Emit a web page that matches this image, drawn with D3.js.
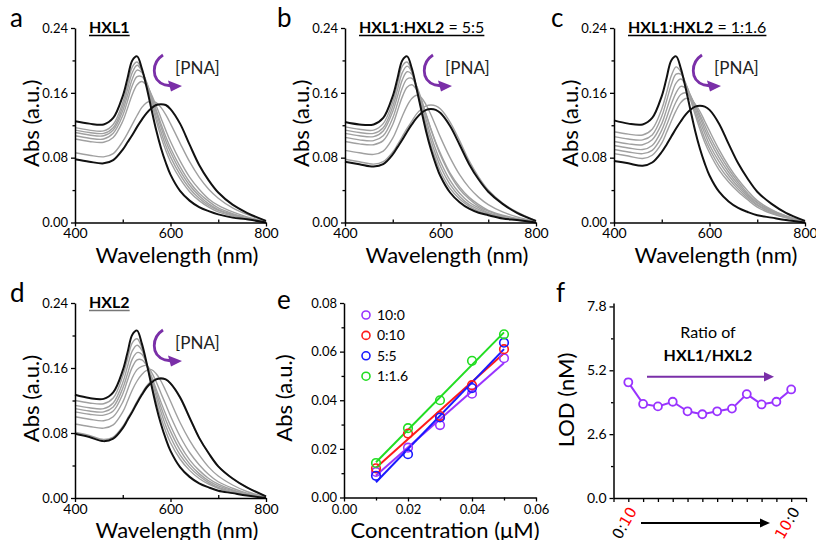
<!DOCTYPE html>
<html><head><meta charset="utf-8">
<script src="https://cdn.jsdelivr.net/npm/d3@7"></script>
<style>body{margin:0;background:#fff}svg{display:block;font-family:Lato,'Open Sans',sans-serif}</style>
</head><body><script>
// ---------- DATA ----------
const wavelengths = [400,430,460,480,500,510,520,530,540,550,560,570,580,590,600,620,640,660,680,700,730,760,800];

// Panel a (HXL1)
const aBlackStart = [.125,.122,.121,.129,.156,.178,.200,.205,.190,.167,.140,.114,.092,.074,.059,.039,.027,.019,.014,.010,.006,.004,.000];
const aBlackEnd   = [.078,.075,.073,.077,.090,.099,.108,.118,.127,.135,.141,.145,.146,.145,.140,.122,.096,.071,.052,.037,.022,.012,.002];
const aGray = [
  [.117,.114,.113,.121,.148,.170,.192,.198,.188,.170,.148,.126,.106,.089,.075,.054,.038,.027,.019,.013,.008,.004,.001],
  [.114,.111,.110,.117,.143,.164,.185,.194,.187,.172,.152,.131,.112,.095,.081,.059,.042,.030,.021,.015,.009,.005,.001],
  [.111,.108,.107,.114,.138,.157,.177,.188,.185,.173,.155,.136,.118,.101,.087,.064,.046,.033,.023,.016,.010,.005,.001],
  [.107,.104,.103,.110,.132,.150,.169,.180,.180,.171,.156,.139,.122,.106,.092,.069,.050,.036,.026,.018,.011,.006,.001],
  [.103,.100,.099,.105,.125,.141,.158,.170,.174,.169,.158,.144,.129,.114,.100,.076,.056,.041,.029,.021,.013,.007,.001],
  [.086,.083,.081,.085,.100,.110,.121,.132,.142,.148,.150,.148,.142,.133,.122,.098,.075,.056,.041,.030,.018,.010,.002]
];

// Panel b (HXL1:HXL2 = 5:5)
const bBlackStart = [.124,.121,.121,.129,.156,.178,.200,.205,.190,.165,.138,.112,.090,.072,.057,.037,.025,.017,.012,.009,.005,.003,.000];
const bBlackEnd   = [.075,.072,.069,.072,.084,.093,.102,.112,.121,.129,.135,.139,.140,.139,.135,.119,.096,.072,.053,.038,.023,.012,.002];
const bGray = [
  [.118,.115,.114,.122,.149,.171,.193,.198,.186,.164,.140,.116,.095,.078,.063,.042,.029,.020,.014,.010,.006,.003,.000],
  [.114,.111,.110,.117,.143,.164,.185,.193,.186,.167,.144,.121,.101,.084,.069,.047,.032,.022,.016,.011,.007,.004,.001],
  [.110,.107,.106,.113,.137,.156,.176,.186,.183,.168,.148,.127,.107,.090,.075,.052,.036,.025,.018,.012,.007,.004,.001],
  [.105,.102,.101,.107,.129,.147,.166,.177,.178,.168,.152,.133,.115,.098,.083,.059,.041,.029,.020,.014,.008,.004,.001],
  [.100,.097,.096,.101,.121,.138,.155,.167,.170,.164,.150,.133,.115,.099,.085,.061,.044,.031,.022,.015,.009,.005,.001],
  [.089,.086,.084,.088,.104,.117,.131,.144,.153,.157,.154,.145,.133,.119,.105,.080,.059,.043,.031,.022,.013,.007,.001],
  [.078,.075,.072,.075,.087,.096,.106,.116,.125,.134,.140,.144,.145,.144,.140,.124,.101,.076,.056,.040,.024,.013,.002]
];

// Panel c (HXL1:HXL2 = 1:1.6)
const cBlackStart = [.126,.122,.121,.129,.156,.178,.200,.205,.190,.166,.139,.113,.091,.073,.058,.038,.026,.018,.013,.009,.006,.003,.000];
const cBlackEnd   = [.076,.073,.070,.074,.087,.096,.106,.116,.125,.133,.139,.143,.144,.143,.139,.122,.097,.073,.054,.038,.023,.012,.002];
const cGray = [
  [.112,.109,.108,.115,.140,.160,.181,.192,.186,.171,.152,.133,.115,.099,.086,.065,.050,.038,.028,.019,.011,.006,.001],
  [.106,.103,.102,.108,.131,.150,.170,.183,.183,.172,.155,.137,.120,.104,.091,.070,.054,.041,.030,.021,.012,.006,.001],
  [.100,.097,.096,.102,.122,.139,.157,.172,.177,.170,.157,.141,.125,.110,.096,.075,.058,.044,.032,.022,.013,.007,.001],
  [.095,.092,.090,.095,.114,.129,.146,.160,.168,.166,.157,.144,.130,.115,.102,.080,.062,.047,.034,.024,.014,.007,.001],
  [.090,.087,.085,.089,.106,.120,.135,.149,.158,.160,.155,.145,.133,.120,.107,.085,.066,.050,.036,.025,.015,.008,.001],
  [.085,.082,.079,.083,.098,.111,.125,.138,.148,.153,.152,.146,.137,.125,.113,.090,.070,.053,.039,.027,.016,.008,.001]
];

// Panel d (HXL2)
const dBlackStart = [.127,.123,.122,.130,.157,.179,.201,.206,.190,.166,.139,.113,.091,.073,.058,.038,.026,.018,.013,.009,.006,.003,.000];
const dBlackEnd   = [.079,.075,.070,.073,.086,.096,.106,.117,.127,.136,.142,.146,.147,.146,.141,.124,.099,.074,.055,.039,.024,.013,.002];
const dGray = [
  [.120,.117,.116,.123,.150,.171,.191,.196,.185,.164,.141,.119,.099,.082,.068,.048,.034,.024,.017,.012,.007,.004,.001],
  [.114,.111,.110,.117,.142,.162,.181,.188,.182,.166,.146,.125,.106,.089,.075,.053,.038,.027,.019,.013,.008,.004,.001],
  [.110,.107,.106,.112,.135,.153,.171,.179,.177,.165,.148,.130,.112,.096,.082,.059,.042,.030,.021,.015,.009,.005,.001],
  [.106,.103,.102,.107,.128,.145,.161,.170,.170,.163,.150,.134,.118,.103,.089,.065,.047,.034,.024,.017,.010,.005,.001],
  [.100,.097,.095,.100,.118,.133,.148,.158,.162,.163,.155,.143,.129,.115,.101,.076,.056,.041,.029,.020,.012,.006,.001],
  [.091,.088,.086,.090,.106,.119,.133,.144,.152,.157,.158,.153,.144,.132,.119,.093,.071,.053,.038,.027,.016,.008,.001],
  [.081,.077,.072,.075,.088,.098,.108,.119,.129,.138,.144,.147,.148,.146,.141,.123,.098,.074,.055,.039,.024,.013,.002]
];

// Panel e (calibration)
const concentrations = [0.01,0.02,0.03,0.04,0.05];
const ratioNames = ["10:0","0:10","5:5","1:1.6"];
const abs_10_0  = [0.0105,0.0205,0.0298,0.0427,0.0573];
const abs_0_10  = [0.0120,0.0263,0.0335,0.0462,0.0610];
const abs_5_5   = [0.0089,0.0178,0.0329,0.0450,0.0637];
const abs_1_1_6 = [0.0142,0.0285,0.0400,0.0562,0.0671];
const ratioColors = ["#9933ff","#ff1a1a","#1a1aff","#22dd22"];

// Panel f (LOD)
const lodIndex = [1,2,3,4,5,6,7,8,9,10,11,12];
const lodValues = [4.71,3.83,3.73,3.92,3.53,3.41,3.53,3.64,4.23,3.81,3.92,4.42];
const lodErrors = [0.14,0.07,0.07,0.07,0.07,0.08,0.07,0.07,0.07,0.07,0.07,0.1];

const specYTicks = [0,0.08,0.16,0.24];
const specYMinor = [0.04,0.12,0.20];
const specXTicks = [400,600,800];
const specXMinor = [500,700];

// ---------- DRAW ----------
const FONT = "Lato,'Open Sans',sans-serif";
const svg = d3.select('body').append('svg').attr('width',816).attr('height',540);

function styleAxis(g, fs){
  g.attr('font-family', FONT).attr('font-size', fs||13);
  g.selectAll('path.domain').attr('stroke','#000').attr('stroke-width',1.5);
  g.selectAll('.tick line').attr('stroke','#000').attr('stroke-width',1.3);
  g.selectAll('.tick text').attr('fill','#000');
}

function underlinedTitle(x, y, parts, ulColor){
  const t = svg.append('text').attr('x',x).attr('y',y).attr('font-size',16).attr('fill','#000').attr('font-family',FONT);
  parts.forEach(p => t.append('tspan').text(p[0]).attr('font-weight', p[1] ? 700 : 400));
  const bb = t.node().getBBox();
  svg.append('line').attr('x1',bb.x).attr('x2',bb.x+bb.width).attr('y1',y+2.5).attr('y2',y+2.5)
    .attr('stroke', ulColor||'#000').attr('stroke-width',1.3);
}

function pnaArrow(ox, oy){
  const g = svg.append('g').attr('transform',`translate(${ox},${oy})`);
  g.append('path').attr('d','M88,27 C77,34 75,52 90,57 L97,58').attr('fill','none')
    .attr('stroke','#7a2fa8').attr('stroke-width',2.8);
  g.append('path').attr('d','M93,52.5 L107,58 L96,63.5 Z').attr('fill','#7a2fa8');
  g.append('text').attr('x',100).attr('y',46).attr('font-size',17).attr('fill','#222')
    .attr('font-family',FONT).text('[PNA]');
}

function spectrum(p){
  const x = d3.scaleLinear().domain([400,800]).range([p.x0,p.x1]);
  const y = d3.scaleLinear().domain([0,0.24]).range([p.y1,p.y0]);
  const line = d3.line().x((d,i)=>x(wavelengths[i])).y(d=>y(d)).curve(d3.curveCatmullRom.alpha(0.5));
  const g = svg.append('g');
  p.grays.forEach(s => g.append('path').attr('d',line(s)).attr('fill','none')
    .attr('stroke','#a0a0a0').attr('stroke-width',1.4));
  p.blacks.forEach(s => g.append('path').attr('d',line(s)).attr('fill','none')
    .attr('stroke','#111').attr('stroke-width',2));
  // axes
  const ya = svg.append('g').attr('transform',`translate(${p.x0},0)`)
    .call(d3.axisLeft(y).tickValues(specYTicks).tickFormat(d3.format('.2f')).tickSize(4).tickSizeOuter(0).tickPadding(3));
  styleAxis(ya);
  const ym = svg.append('g').attr('transform',`translate(${p.x0},0)`)
    .call(d3.axisLeft(y).tickValues(specYMinor).tickFormat('').tickSize(2.5).tickSizeOuter(0));
  styleAxis(ym); ym.select('path.domain').remove();
  const xa = svg.append('g').attr('transform',`translate(0,${p.y1})`)
    .call(d3.axisBottom(x).tickValues(specXTicks).tickFormat(d3.format('d')).tickSize(4).tickSizeOuter(0).tickPadding(2));
  styleAxis(xa, 14);
  const xm = svg.append('g').attr('transform',`translate(0,${p.y1})`)
    .call(d3.axisBottom(x).tickValues(specXMinor).tickFormat('').tickSize(-3).tickSizeOuter(0));
  styleAxis(xm); xm.select('path.domain').remove();
  // labels
  svg.append('text').attr('transform',`translate(${p.x0-36},${(p.y0+p.y1)/2-2}) rotate(-90)`)
    .attr('text-anchor','middle').attr('font-size',22).attr('font-family',FONT).text('Abs (a.u.)');
  svg.append('text').attr('x',p.x0+102).attr('y',p.y1+40).attr('text-anchor','middle')
    .attr('font-size',22).attr('font-family',FONT).text('Wavelength (nm)');
  svg.append('text').attr('x',p.lx).attr('y',p.ly).attr('font-size',26).attr('font-family',FONT).text(p.letter);
  underlinedTitle(p.x0+14, p.y0+5, p.title, p.ulColor);
  pnaArrow(p.x0, p.y0);
}

spectrum({x0:75,x1:266,y0:28,y1:222.5,grays:aGray,blacks:[aBlackStart,aBlackEnd],letter:'a',lx:10,ly:27,
  title:[['HXL1',true]]});
spectrum({x0:345,x1:536,y0:28,y1:222.5,grays:bGray,blacks:[bBlackStart,bBlackEnd],letter:'b',lx:277,ly:27,
  title:[['HXL1',true],[':',false],['HXL2',true],[' = 5:5',false]]});
spectrum({x0:614,x1:805,y0:28,y1:222.5,grays:cGray,blacks:[cBlackStart,cBlackEnd],letter:'c',lx:551,ly:27,
  title:[['HXL1',true],[':',false],['HXL2',true],[' = 1:1.6',false]]});
spectrum({x0:75,x1:266,y0:303,y1:498,grays:dGray,blacks:[dBlackStart,dBlackEnd],letter:'d',lx:10,ly:302,
  title:[['HXL2',true]], ulColor:'#777'});

// ---------- Panel e ----------
(function(){
  const x = d3.scaleLinear().domain([0,0.06]).range([344,536]);
  const y = d3.scaleLinear().domain([0,0.08]).range([497.5,303]);
  const series = [abs_10_0, abs_0_10, abs_5_5, abs_1_1_6];
  // regression lines
  series.forEach((ys,k)=>{
    const xm = d3.mean(concentrations), ym = d3.mean(ys);
    const slope = d3.sum(concentrations,(c,i)=>(c-xm)*(ys[i]-ym)) / d3.sum(concentrations,c=>(c-xm)*(c-xm));
    const icpt = ym - slope*xm;
    const ends = [concentrations[0], concentrations[concentrations.length-1]];
    svg.append('line').attr('x1',x(ends[0])).attr('y1',y(icpt+slope*ends[0]))
      .attr('x2',x(ends[1])).attr('y2',y(icpt+slope*ends[1]))
      .attr('stroke',ratioColors[k]).attr('stroke-width',2);
  });
  series.forEach((ys,k)=>{
    svg.append('g').selectAll('circle').data(ys).join('circle')
      .attr('cx',(d,i)=>x(concentrations[i])).attr('cy',d=>y(d)).attr('r',4.3)
      .attr('fill','none').attr('stroke',ratioColors[k]).attr('stroke-width',1.6);
  });
  const ya = svg.append('g').attr('transform','translate(344,0)')
    .call(d3.axisLeft(y).tickValues([0,0.02,0.04,0.06,0.08]).tickFormat(d3.format('.2f')).tickSize(4).tickSizeOuter(0).tickPadding(3));
  styleAxis(ya);
  const ymn = svg.append('g').attr('transform','translate(344,0)')
    .call(d3.axisLeft(y).tickValues([0.01,0.03,0.05,0.07]).tickFormat('').tickSize(2.5).tickSizeOuter(0));
  styleAxis(ymn); ymn.select('path.domain').remove();
  const xa = svg.append('g').attr('transform','translate(0,497.5)')
    .call(d3.axisBottom(x).tickValues([0,0.02,0.04,0.06]).tickFormat(d3.format('.2f')).tickSize(4).tickSizeOuter(0).tickPadding(3));
  styleAxis(xa);
  const xmn = svg.append('g').attr('transform','translate(0,497.5)')
    .call(d3.axisBottom(x).tickValues([0.01,0.03,0.05]).tickFormat('').tickSize(3).tickSizeOuter(0));
  styleAxis(xmn); xmn.select('path.domain').remove();
  // legend
  ratioNames.forEach((n,k)=>{
    const yy = 315 + k*20.4;
    svg.append('circle').attr('cx',366).attr('cy',yy).attr('r',4).attr('fill','none')
      .attr('stroke',ratioColors[k]).attr('stroke-width',1.6);
    svg.append('text').attr('x',377).attr('y',yy+5).attr('font-size',14).attr('font-family',FONT).text(n);
  });
  svg.append('text').attr('transform','translate(292,398) rotate(-90)').attr('text-anchor','middle')
    .attr('font-size',22).attr('font-family',FONT).text('Abs (a.u.)');
  svg.append('text').attr('x',445).attr('y',538).attr('text-anchor','middle')
    .attr('font-size',22).attr('font-family',FONT).text('Concentration (μM)');
  svg.append('text').attr('x',277).attr('y',309).attr('font-size',26).attr('font-family',FONT).text('e');
})();

// ---------- Panel f ----------
(function(){
  const x = d3.scaleLinear().domain([0,13]).range([613.5,806]);
  const y = d3.scaleLinear().domain([0,7.94]).range([498,303]);
  const purple = '#9933ff';
  // error bars
  lodValues.forEach((v,i)=>{
    const xx = x(lodIndex[i]);
    svg.append('line').attr('x1',xx).attr('x2',xx).attr('y1',y(v-lodErrors[i])).attr('y2',y(v+lodErrors[i]))
      .attr('stroke',purple).attr('stroke-width',1.3);
    [v-lodErrors[i], v+lodErrors[i]].forEach(e=>svg.append('line').attr('x1',xx-3).attr('x2',xx+3)
      .attr('y1',y(e)).attr('y2',y(e)).attr('stroke',purple).attr('stroke-width',1.3));
  });
  svg.append('path').attr('d', d3.line().x((d,i)=>x(lodIndex[i])).y(d=>y(d))(lodValues))
    .attr('fill','none').attr('stroke',purple).attr('stroke-width',2);
  svg.append('g').selectAll('circle').data(lodValues).join('circle')
    .attr('cx',(d,i)=>x(lodIndex[i])).attr('cy',d=>y(d)).attr('r',4)
    .attr('fill','#fff').attr('stroke',purple).attr('stroke-width',1.8);
  const ya = svg.append('g').attr('transform','translate(613.5,0)')
    .call(d3.axisLeft(y).tickValues([0,2.6,5.2,7.8]).tickFormat(d3.format('.1f')).tickSize(4).tickSizeOuter(0).tickPadding(3));
  styleAxis(ya, 14);
  const ymn = svg.append('g').attr('transform','translate(613.5,0)')
    .call(d3.axisLeft(y).tickValues([1.3,3.9,6.5]).tickFormat('').tickSize(2.5).tickSizeOuter(0));
  styleAxis(ymn); ymn.select('path.domain').remove();
  const xa = svg.append('g').attr('transform','translate(0,498)')
    .call(d3.axisBottom(x).tickValues(d3.range(0,14)).tickFormat('').tickSize(4).tickSizeOuter(0));
  styleAxis(xa);
  // rotated ratio labels
  const lab = (i, parts) => {
    const t = svg.append('text').attr('transform',`translate(${x(i)+9},511) rotate(-60)`)
      .attr('text-anchor','end').attr('font-size',15).attr('font-family',"'DejaVu Sans',sans-serif");
    parts.forEach(p=>t.append('tspan').text(p[0]).attr('fill',p[1]));
  };
  lab(1, [['0:','#000'],['10','#ff0000']]);
  lab(12, [['10','#ff0000'],[':0','#000']]);
  // black arrow
  svg.append('line').attr('x1',641).attr('x2',762).attr('y1',523).attr('y2',523).attr('stroke','#000').attr('stroke-width',2);
  svg.append('path').attr('d','M760,518.5 L770,523 L760,527.5 Z').attr('fill','#000');
  // purple arrow + text
  svg.append('line').attr('x1',647).attr('x2',766).attr('y1',376.7).attr('y2',376.7).attr('stroke','#7a2fa8').attr('stroke-width',2);
  svg.append('path').attr('d','M764,372 L774,376.7 L764,381.4 Z').attr('fill','#7a2fa8');
  svg.append('text').attr('x',708).attr('y',338).attr('text-anchor','middle').attr('font-size',16)
    .attr('font-family',FONT).text('Ratio of');
  svg.append('text').attr('x',708).attr('y',361).attr('text-anchor','middle').attr('font-size',16)
    .attr('font-weight',700).attr('font-family',FONT).text('HXL1/HXL2');
  svg.append('text').attr('transform','translate(574,400) rotate(-90)').attr('text-anchor','middle')
    .attr('font-size',22).attr('font-family',FONT).text('LOD (nM)');
  svg.append('text').attr('x',556).attr('y',302).attr('font-size',26).attr('font-family',FONT).text('f');
})();
</script></body></html>
